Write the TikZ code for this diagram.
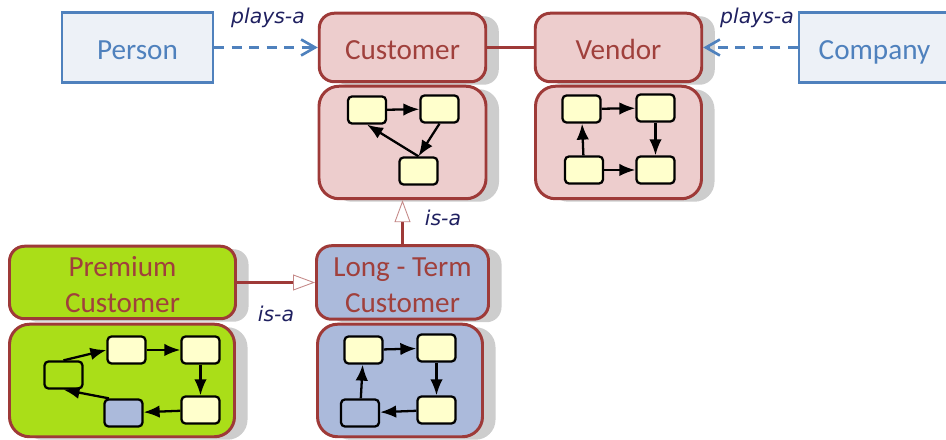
\documentclass[tikz,border=0pt]{standalone}
\usepackage{fontspec}
\setmainfont{Carlito}
\newfontfamily\relfont{DejaVu Sans}
\usetikzlibrary{arrows.meta,shadows}

\definecolor{rolefill}{RGB}{237,205,205}
\definecolor{roleline}{RGB}{158,58,56}
\definecolor{roletext}{RGB}{160,64,60}
\definecolor{longfill}{RGB}{171,186,219}
\definecolor{premfill}{RGB}{170,222,24}
\definecolor{taskfill}{RGB}{255,255,204}
\definecolor{entfill}{RGB}{237,241,247}
\definecolor{entline}{RGB}{79,129,189}
\definecolor{relnavy}{RGB}{31,32,96}
\definecolor{shadowgray}{RGB}{205,205,205}

\tikzset{
	entity/.style={draw=entline,line width=1.4pt,fill=entfill,text=entline,
		minimum width=3.02cm,minimum height=1.4cm,inner sep=0,
		text height=0.49cm,text depth=0pt,
		font=\fontsize{16.6}{20.4}\selectfont},
	rolebox/.style={draw=roleline,line width=1.7pt,text=roletext,align=center,inner sep=0,
		font=\fontsize{16.6}{20.4}\selectfont,
		drop shadow={shadow xshift=0.26cm,shadow yshift=-0.06cm,fill=shadowgray,opacity=1}},
	rolehead/.style={rolebox,rounded corners=0.3cm,text height=0.49cm,text depth=0pt},
	rolehead2/.style={rolebox,rounded corners=0.3cm,text height=1.21cm,text depth=0pt},
	rolebody/.style={rolebox,rounded corners=0.4cm,minimum height=2.25cm},
	task/.style={draw=black,line width=1.3pt,rounded corners=0.08cm,fill=taskfill,
		minimum width=0.76cm,minimum height=0.54cm,inner sep=0},
	flow/.style={-{Latex[length=0.32cm,width=0.25cm]},line width=1.3pt},
	playsa/.style={draw=entline,line width=1.5pt,dash pattern=on 0.2cm off 0.15cm,
		-{Straight Barb[length=0.28cm,width=0.32cm]}},
	isa/.style={draw=roleline,line width=1.7pt,
		-{Triangle[open,length=0.44cm,width=0.32cm,line width=0.5pt 0,color=roleline!60]}},
	rellabel/.style={text=relnavy,inner sep=0,font=\relfont\itshape\fontsize{11.6}{13}\selectfont},
}

\begin{document}
\begin{tikzpicture}[x=0.2mm,y=-0.2mm]

	\useasboundingbox (0,0) rectangle (946,440);

	% entities
	\node[entity] (person) at (137.5,47.5) {Person};
	\node[entity] (company) at (874.5,47.5) {Company};

	% roles: header and body
	\node[rolehead,fill=rolefill,minimum width=3.33cm,minimum height=1.37cm] (custhead) at (402.5,47.5) {Customer};
	\node[rolebody,fill=rolefill,minimum width=3.34cm] (custbody) at (402.5,142.5) {};

	\node[rolehead,fill=rolefill,minimum width=3.33cm,minimum height=1.37cm] (vendhead) at (618.5,47.5) {Vendor};
	\node[rolebody,fill=rolefill,minimum width=3.32cm] (vendbody) at (618.5,142.5) {};

	\node[rolehead2,fill=longfill,minimum width=3.44cm,minimum height=1.47cm] (longhead) at (402.5,282.5) {Long - Term\\Customer};
	\node[rolebody,fill=longfill,minimum width=3.3cm] (longbody) at (400,380.5) {};

	\node[rolehead2,fill=premfill,minimum width=4.52cm,minimum height=1.45cm] (premhead) at (122.5,282.5) {Premium\\Customer};
	\node[rolebody,fill=premfill,minimum width=4.5cm] (prembody) at (122,380.5) {};

	% customer steps
	\node[task] (cA) at (367,110) {};
	\node[task] (cB) at (439.5,109) {};
	\node[task] (cC) at (418.5,171) {};
	\draw[flow] (cA) -- (cB);
	\draw[flow] (cB.south) -- (cC.north);
	\draw[flow] (cC.north) -- (cA.south);

	% vendor steps
	\node[task] (vA) at (581.5,109) {};
	\node[task] (vB) at (655.5,108) {};
	\node[task] (vC) at (584,170) {};
	\node[task] (vD) at (655.5,170) {};
	\draw[flow] (vA) -- (vB);
	\draw[flow] (vB) -- (vD);
	\draw[flow] (vC) -- (vD);
	\draw[flow] (vC) -- (vA);

	% long-term customer steps
	\node[task] (lA) at (363.5,350) {};
	\node[task] (lB) at (436.5,348) {};
	\node[task,fill=longfill] (lC) at (360,413) {};
	\node[task] (lD) at (436.5,410) {};
	\draw[flow] (lA) -- (lB);
	\draw[flow] (lB) -- (lD);
	\draw[flow] (lD) -- (lC);
	\draw[flow] (lC) -- (lA);

	% premium customer steps
	\node[task,fill=premfill] (pA) at (63.5,375) {};
	\node[task] (pB) at (126.5,350) {};
	\node[task] (pC) at (200.5,350) {};
	\node[task] (pD) at (200.5,410) {};
	\node[task,fill=longfill] (pE) at (123.5,413) {};
	\draw[flow] (pA.north) -- (pB.west);
	\draw[flow] (pB) -- (pC);
	\draw[flow] (pC) -- (pD);
	\draw[flow] (pD) -- (pE);
	\draw[flow] (pE.135) -- (pA.south);

	%Links
	\draw[playsa] (person) -- (custhead); % person plays a customer
	\draw[playsa] (company) -- (vendhead); % company plays a vendor
	\draw[draw=roleline,line width=1.7pt] (custhead) -- (vendhead);
	\draw[isa] (premhead) -- (longhead);
	\draw[isa] (longhead) -- (custbody);

	% relation labels
	\node[rellabel] (playsl) at (268,18) {plays-a};
	\node[rellabel] (playsr) at (757,18) {plays-a};
	\node[rellabel] (isaup) at (443,218) {is-a};
	\node[rellabel] (isaside) at (276,314) {is-a};

\end{tikzpicture}
\end{document}
